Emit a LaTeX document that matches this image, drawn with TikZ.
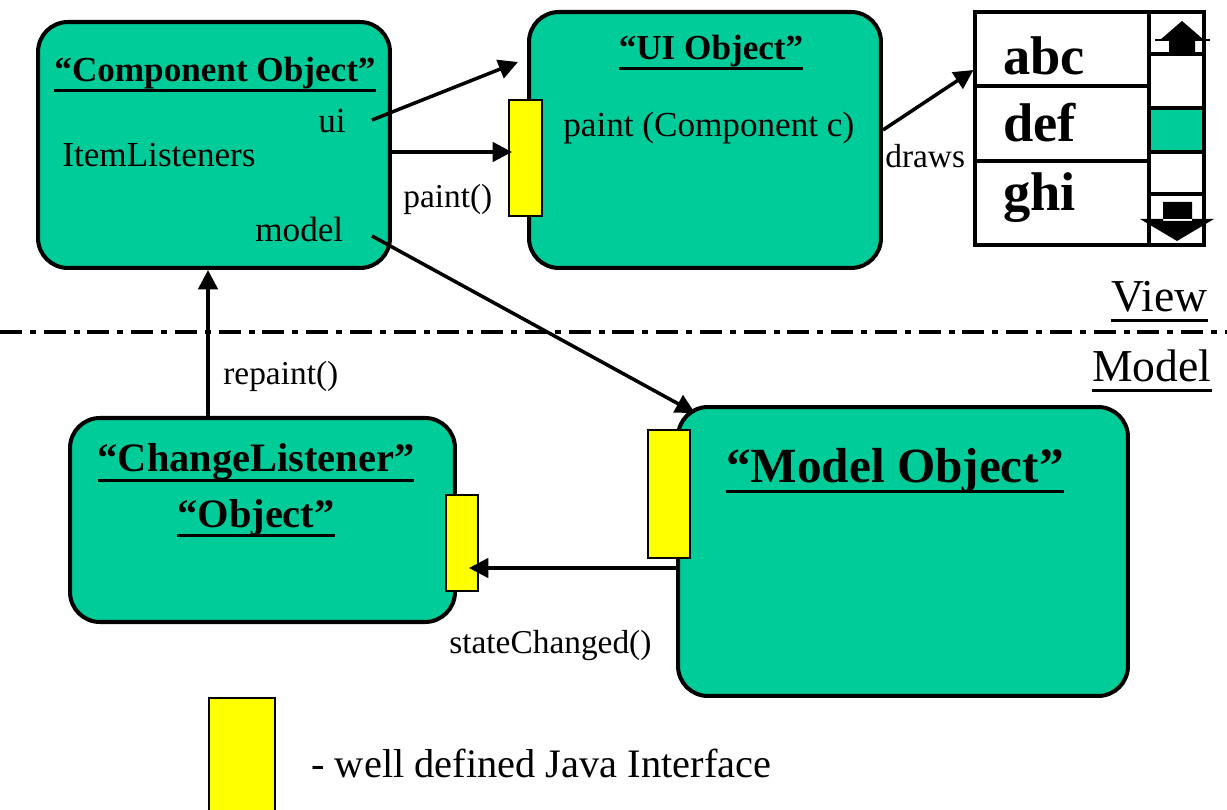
\documentclass[tikz,border=0pt]{standalone}
\usepackage{fontspec}
\setmainfont{Liberation Serif}
\usetikzlibrary{arrows.meta}

\definecolor{objgreen}{RGB}{0,204,153}
\definecolor{ifyellow}{RGB}{255,255,0}

\newcommand{\titleline}[1]{\setbox0\hbox{#1}\dp0=0pt\vtop{\box0\kern4pt\hrule height 1.5pt}}
\newcommand{\fsz}[1]{\fontsize{#1}{#1}\selectfont}

\begin{document}
\begin{tikzpicture}[x=0.02cm, y=-0.02cm,
    objbox/.style={draw, line width=2.3pt, fill=objgreen, rounded corners=17pt, inner sep=0pt},
    iface/.style={draw, line width=0.6pt, fill=ifyellow, inner sep=0pt},
    lbl/.style={inner sep=0pt, anchor=base west, font=\fsz{20}},
    small/.style={inner sep=0pt, anchor=base west, font=\fsz{19}},
    listtxt/.style={inner sep=0pt, anchor=base west, font=\fsz{31}\bfseries},
    call/.style={line width=2pt, -{Triangle[length=11pt,width=11pt]}}
]
\useasboundingbox (0,0) rectangle (1227,810);

\node (compobj) [objbox,
    minimum width=7.04cm,
    minimum height=4.92cm
] at (214,145) {};

\node (uiobj) [objbox,
    minimum width=7.04cm,
    minimum height=5.12cm
] at (705,140) {};

\node (listener) [objbox,
    minimum width=7.7cm,
    minimum height=4.08cm
] at (262.5,520) {};

\node (modelobj) [objbox,
    minimum width=9cm,
    minimum height=5.78cm
] at (903,551.5) {};

\node (uiif) [iface, minimum width=0.66cm, minimum height=2.32cm] at (525.5,158) {};
\node (listenerif) [iface, minimum width=0.64cm, minimum height=1.92cm] at (462,543) {};
\node (modelif) [iface, minimum width=0.84cm, minimum height=2.56cm] at (669,494) {};
\node (legendif) [iface, minimum width=1.32cm, minimum height=2.64cm] at (242,764) {};

% list with scroll bar
\node (listbox) [draw, line width=1.8pt, fill=white,
    minimum width=4.58cm,
    minimum height=4.66cm
] at (1089.5,128.5) {};
\fill[objgreen] (1149,108) rectangle (1202,152);
\draw[line width=1.8pt] (1149,12) -- (1149,245);
\draw[line width=1.8pt] (975,86) -- (1149,86) (975,161) -- (1149,161);
\draw[line width=1.8pt] (1149,54) -- (1203,54) (1149,108) -- (1203,108)
    (1149,152) -- (1203,152) (1149,194) -- (1203,194);
\fill (1160,40) -- (1182,21) -- (1204,40) -- cycle (1169,40) rectangle (1195,53);
\draw[line width=0.8pt] (1155,40) -- (1210,40);
\fill (1163,202) rectangle (1192,221) (1140,219) -- (1214,219) -- (1177,241) -- cycle;

\node (abc) [listtxt] at (1003,75) {abc};
\node (def) [listtxt] at (1003,142) {def};
\node (ghi) [listtxt] at (1003,211) {ghi};

\node (cotitle) [lbl, anchor=base, font=\fsz{20}\bfseries] at (215,82) {\titleline{“Component Object”}};
\node (uilbl) [lbl] at (318,133) {ui};
\node (itemlis) [lbl] at (62,167) {ItemListeners};
\node (modellbl) [lbl] at (255,242) {model};

\node (uititle) [lbl, anchor=base, font=\fsz{20}\bfseries] at (711,60) {\titleline{“UI Object”}};
\node (paintsig) [lbl] at (563,137) {paint (Component c)};

\node (cltitle) [lbl, anchor=base, font=\fsz{23}\bfseries] at (256,472) {\titleline{“ChangeListener”}};
\node (clobject) [lbl, anchor=base, font=\fsz{23}\bfseries] at (256,527) {\titleline{“Object”}};
\node (motitle) [lbl, anchor=base, font=\fsz{28}\bfseries] at (895,483) {\titleline{“Model Object”}};

\node (viewlbl) [lbl, font=\fsz{26}] at (1111,312) {\titleline{View}};
\node (modellayer) [lbl, font=\fsz{26}] at (1092,382) {\titleline{Model}};

\node (paintcall) [small] at (403,208) {paint()};
\node (drawslbl) [small] at (885,168) {draws};
\node (repaintcall) [small] at (223,385) {repaint()};
\node (statecall) [small] at (449,653) {stateChanged()};
\node (legendtxt) [lbl, font=\fsz{23}] at (311,777) {- well defined Java Interface};

\draw[line width=2.4pt, dash pattern=on 12.5pt off 4.5pt on 3.4pt off 4.5pt] (0,332) -- (1227,332);

\coordinate (uiport) at (372,120);
\coordinate (uitip) at (518,62);
\coordinate (modelport) at (372,236);
\coordinate (sctip) at (469,568);

\draw[call] (uiport) -- (uitip);
\draw[call] (compobj.east |- 0,152) -- ([xshift=2pt]uiif.west |- 0,152);
\draw[call] (uiobj.east |- 0,130) -- (listbox.west |- 0,70);
\draw[call] (modelport) -- ([shift={(19,8)}]modelobj.north west);
\draw[call] (listener.north -| 208,0) -- (compobj.south -| 208,0);
\draw[call] (modelobj.west |- 0,568) -- (sctip);

\end{tikzpicture}
\end{document}
